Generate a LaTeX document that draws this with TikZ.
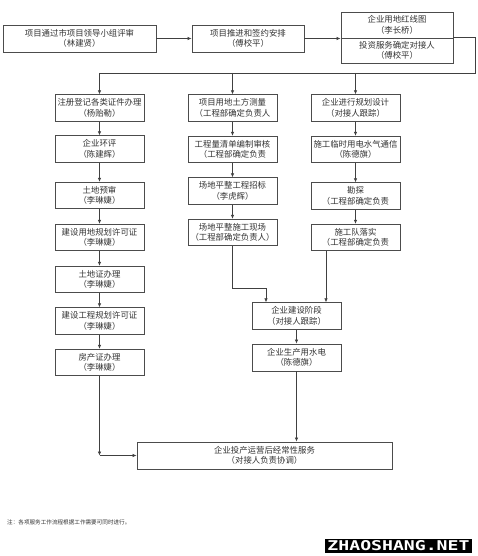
\documentclass[tikz,border=0pt]{standalone}
\usepackage{fontspec}
\newfontfamily\cjk{Noto Sans CJK SC}
\newfontfamily\wmfont{DejaVu Sans Mono}
\usetikzlibrary{arrows.meta}
\begin{document}
\begin{tikzpicture}[x=1pt,y=-1pt,
  font=\cjk\fontsize{8.4}{10.5}\selectfont,
  box/.style={draw=black!70, line width=0.8pt, align=center, inner sep=0pt, text=black!80, minimum width=89pt, minimum height=26.5pt},
  conn/.style={draw=black!75, line width=0.7pt},
  arr/.style={conn,-{Latex[length=4pt,width=3.5pt]}}]
\useasboundingbox (0,0) rectangle (477,556);
\fill[white] (0,0) rectangle (477,556);

% top row
\node[box, minimum width=153pt, minimum height=27pt] (A) at (79.5,38.5) {项目通过市项目领导小组评审\\（林建贤）};
\node[box, minimum width=112pt, minimum height=27pt] (B) at (248,38.5) {项目推进和签约安排\\（傅校平）};
\node[box, minimum width=112pt, minimum height=26pt] (C1) at (397,25) {企业用地红线图\\（李长桥）};
\node[box, minimum width=112pt, minimum height=25pt] (C2) at (397,50.5) {投资服务确定对接人\\（傅校平）};

% left column
\node[box] (L1) at (99.5,108) {注册登记各类证件办理\\（杨贻勒）};
\node[box] (L2) at (99.5,149) {企业环评\\（陈建辉）};
\node[box] (L3) at (99.5,195.5) {土地预审\\（李琳婕）};
\node[box] (L4) at (99.5,237.5) {建设用地规划许可证\\（李琳婕）};
\node[box] (L5) at (99.5,279.5) {土地证办理\\（李琳婕）};
\node[box] (L6) at (99.5,321) {建设工程规划许可证\\（李琳婕）};
\node[box] (L7) at (99.5,362.5) {房产证办理\\（李琳婕）};

% middle column
\node[box] (M1) at (232.5,108) {项目用地土方测量\\（工程部确定负责人};
\node[box] (M2) at (232.5,149.5) {工程量清单编制审核\\（工程部确定负责};
\node[box] (M3) at (232.5,191) {场地平整工程招标\\（李虎辉）};
\node[box] (M4) at (232.5,232.5) {场地平整施工现场\\（工程部确定负责人）};

% right column
\node[box] (R1) at (355.5,108) {企业进行规划设计\\（对接人跟踪）};
\node[box] (R2) at (355.5,149.5) {施工临时用电水气通信\\（陈德旗）};
\node[box] (R3) at (355.5,196) {勘探\\（工程部确定负责};
\node[box] (R4) at (355.5,237.5) {施工队落实\\（工程部确定负责};

% lower boxes
\node[box] (BLD) at (296.5,316) {企业建设阶段\\（对接人跟踪）};
\node[box, minimum height=27pt] (WAT) at (296.5,357.5) {企业生产用水电\\（陈德旗）};
\node[box, minimum width=255pt, minimum height=27pt] (FIN) at (264.5,455.5) {企业投产运营后经常性服务\\（对接人负责协调）};

% connectors top
\draw[arr] (A.east) -- (B.west);
\draw[arr] (B.east) -- (B.east -| C2.west);
\coordinate (busR) at (475,73);
\draw[conn] (C2.north east) -- (C2.north east -| busR) -- (busR) -- (busR -| L1.north);
\draw[arr] (L1.north |- busR) -- (L1.north);
\draw[arr] (M1.north |- busR) -- (M1.north);
\draw[arr] (R1.north |- busR) -- (R1.north);

% left chain
\draw[arr] (L1) -- (L2);
\draw[arr] (L2) -- (L3);
\draw[arr] (L3) -- (L4);
\draw[arr] (L4) -- (L5);
\draw[arr] (L5) -- (L6);
\draw[arr] (L6) -- (L7);
\coordinate (lc) at (99.5,455.5);
\draw[arr] (L7.south) -- (lc);
\draw[arr] (lc) -- (FIN.west);

% middle chain
\draw[arr] (M1) -- (M2);
\draw[arr] (M2) -- (M3);
\draw[arr] (M3) -- (M4);
\coordinate (mc) at (266,288);
\draw[arr] (M4.south) |- (mc) -- (mc |- BLD.north);

% right chain
\draw[arr] (R1) -- (R2);
\draw[arr] (R2) -- (R3);
\draw[arr] (R3) -- (R4);
\coordinate (rc) at (326,0);
\draw[arr] (R4.south -| rc) -- (BLD.north -| rc);

% lower chain
\draw[arr] (BLD) -- (WAT);
\draw[arr] (WAT.south) -- (WAT.south |- FIN.north);

% note
\node[anchor=west, inner sep=0pt, text=black!80, font=\cjk\fontsize{5.6}{7}\selectfont] (note) at (7,522) {注：各项服务工作流程根据工作需要可同时进行。};

% watermark
\fill[black] (325,539) rectangle (472,552.5);
\node[inner sep=0pt, text=white] (wm) at (398.5,545.8) {\resizebox{142pt}{10pt}{\wmfont\bfseries ZHAOSHANG.NET}};
\end{tikzpicture}
\end{document}
